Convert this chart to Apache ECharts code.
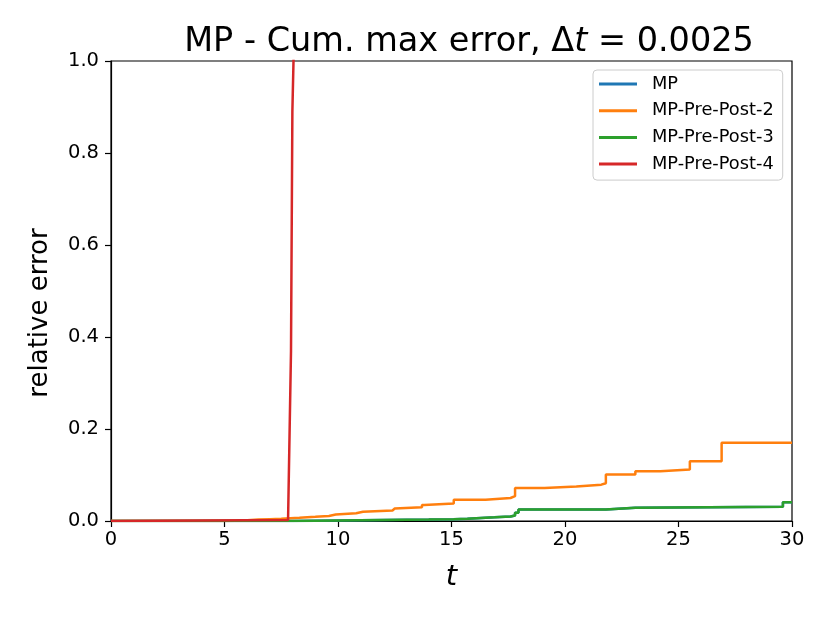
<!DOCTYPE html>
<html>
<head>
<meta charset="utf-8">
<script src="https://cdn.jsdelivr.net/npm/echarts@6/dist/echarts.min.js"></script>
<style>html,body{margin:0;padding:0;background:#fff}#c{width:830px;height:622px}</style>
</head>
<body>
<div id="c"></div>
<script>
// ---- data ----
const seriesNames = ['MP', 'MP-Pre-Post-2', 'MP-Pre-Post-3', 'MP-Pre-Post-4'];
const xTickLabels = ['0', '5', '10', '15', '20', '25', '30'];
const yTickLabels = ['0.0', '0.2', '0.4', '0.6', '0.8', '1.0'];

// cumulative max (stepped): time at which each new value starts
const mpT = [0, 8.0, 10, 12, 14, 15.1, 15.7, 16.9, 17.6, 17.8, 17.95, 21.8, 23.1, 29.6, 30];
const mpV = [0, 0.001, 0.002, 0.003, 0.004, 0.005, 0.008, 0.010, 0.012, 0.018, 0.025, 0.029, 0.031, 0.041, 0.041];

const pp2T = [0, 5.0, 5.5, 6.0, 6.5, 7.0, 7.5, 7.9, 8.3, 9.0, 9.6, 9.9, 10.8, 11.1, 12.4, 12.5, 13.7, 13.8, 15.1, 16.5, 17.6, 17.8, 19.1, 20.5, 21.6, 21.8, 23.1, 24.2, 25.5, 26.9, 30];
const pp2V = [0, 0.0005, 0.0015, 0.003, 0.004, 0.005, 0.006, 0.007, 0.009, 0.011, 0.014, 0.017, 0.020, 0.023, 0.027, 0.030, 0.035, 0.038, 0.046, 0.050, 0.054, 0.072, 0.075, 0.079, 0.082, 0.101, 0.108, 0.112, 0.130, 0.170, 0.170];

const pp3T = [0, 8.0, 10, 12, 14, 15.1, 15.7, 16.9, 17.6, 17.8, 17.95, 21.8, 23.1, 29.6, 30];
const pp3V = [0, 0.001, 0.002, 0.003, 0.004, 0.005, 0.008, 0.010, 0.012, 0.018, 0.025, 0.029, 0.031, 0.041, 0.041];

// blows up just before t = 8
const pp4T = [0, 4.0, 7.8, 7.86, 7.93, 7.99, 8.04, 8.1];
const pp4V = [0, 0.001, 0.002, 0.004, 0.37, 0.89, 1.0, 1.2];

// ---- helpers ----
function stepData(ts, vs) {
  const out = [];
  for (let i = 0; i < ts.length; i++) {
    if (i > 0) out.push([ts[i], vs[i - 1]]);
    out.push([ts[i], vs[i]]);
  }
  return out;
}
function lineData(ts, vs) { return ts.map((t, i) => [t, vs[i]]); }

const colors = ['#1f77b4', '#ff7f0e', '#2ca02c', '#d62728'];
const font = 'DejaVu Sans';
const lw = 2.5;

const chart = echarts.init(document.getElementById('c'), null, { renderer: 'canvas' });
chart.setOption({
  animation: false,
  color: colors,
  title: {
    text: '{n|MP - Cum. max error, Δ}{i|t}{n| = 0.0025}',
    left: 464,
    textAlign: 'center',
    top: 20,
    textStyle: {
      fontWeight: 'normal',
      rich: {
        n: { fontFamily: font, fontSize: 33.5, fontWeight: 'normal', color: '#000' },
        i: { fontFamily: font, fontSize: 33.5, fontWeight: 'normal', fontStyle: 'italic', color: '#000' }
      }
    }
  },
  grid: { left: 111, right: 38, top: 61, bottom: 101, show: true, borderColor: '#000', borderWidth: 1.2, backgroundColor: 'transparent' },
  legend: {
    orient: 'vertical',
    left: 593,
    top: 70,
    data: seriesNames,
    icon: 'rect',
    itemWidth: 38,
    itemHeight: 3,
    itemGap: 8.7,
    padding: [5, 9, 7, 6],
    borderColor: '#cccccc',
    borderWidth: 1,
    borderRadius: 4,
    backgroundColor: 'rgba(255,255,255,0.8)',
    textStyle: { fontFamily: font, fontSize: 17.8, lineHeight: 18, color: '#000', padding: [0, 0, 0, 10] }
  },
  xAxis: {
    type: 'value', min: 0, max: 30, interval: 5,
    name: 't', nameLocation: 'middle', nameGap: 42,
    nameTextStyle: { fontFamily: font, fontSize: 29, fontStyle: 'italic', color: '#000' },
    axisLine: { show: true, lineStyle: { color: '#000', width: 1.2 } },
    axisTick: { show: true, length: 6, lineStyle: { color: '#000', width: 1.2 } },
    axisLabel: { fontFamily: font, fontSize: 19.5, color: '#000', margin: 9,
      formatter: (v) => xTickLabels[Math.round(v / 5)] },
    splitLine: { show: false }
  },
  yAxis: {
    type: 'value', min: 0, max: 1, interval: 0.2,
    axisLine: { show: true, lineStyle: { color: '#000', width: 1.2 } },
    axisTick: { show: true, length: 6, lineStyle: { color: '#000', width: 1.2 } },
    axisLabel: { fontFamily: font, fontSize: 19.5, color: '#000', margin: 12,
      formatter: (v) => yTickLabels[Math.round(v / 0.2)] },
    splitLine: { show: false }
  },
  graphic: [{
    type: 'text',
    x: 40, y: 313,
    rotation: Math.PI / 2,
    style: { text: 'relative error', fontFamily: font, fontSize: 26, fill: '#000', textAlign: 'center', textVerticalAlign: 'middle' }
  }],
  series: [
    { name: seriesNames[0], type: 'line', data: stepData(mpT, mpV), showSymbol: false, lineStyle: { width: lw, color: colors[0] }, clip: true },
    { name: seriesNames[1], type: 'line', data: stepData(pp2T, pp2V), showSymbol: false, lineStyle: { width: lw, color: colors[1] }, clip: true },
    { name: seriesNames[2], type: 'line', data: stepData(pp3T, pp3V), showSymbol: false, lineStyle: { width: lw, color: colors[2] }, clip: true },
    { name: seriesNames[3], type: 'line', data: lineData(pp4T, pp4V), showSymbol: false, lineStyle: { width: lw, color: colors[3] }, clip: true }
  ]
});
</script>
</body>
</html>
